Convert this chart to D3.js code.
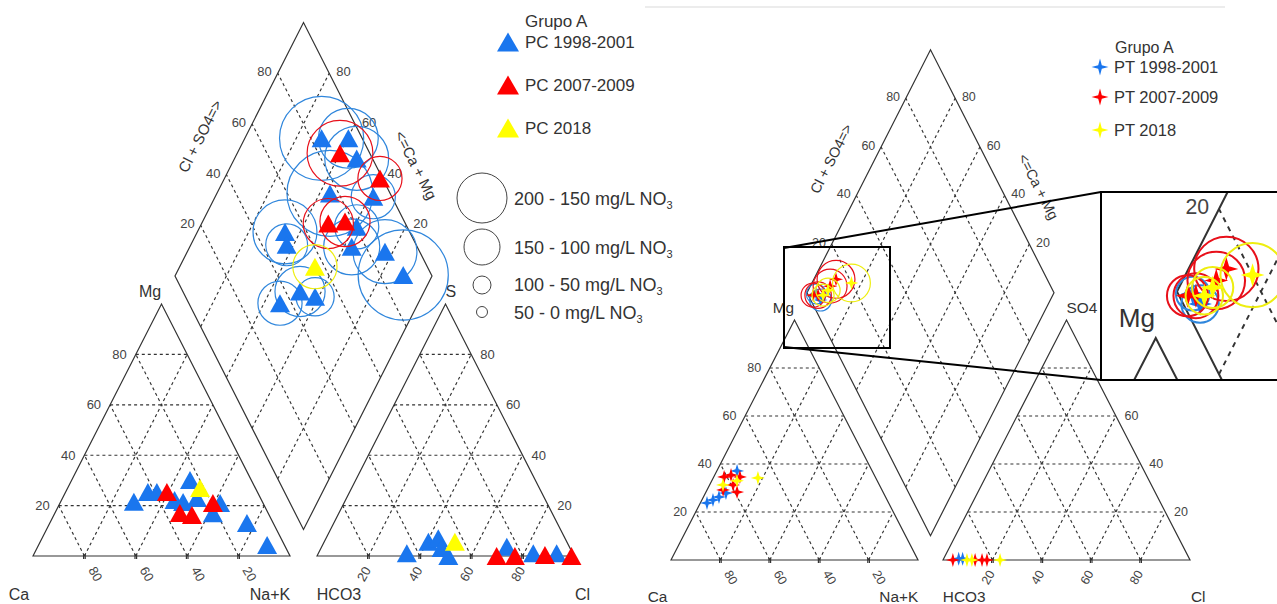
<!DOCTYPE html>
<html><head><meta charset="utf-8">
<script src="https://cdn.jsdelivr.net/npm/d3@7"></script>
<style>
body{margin:0;background:#fff}
svg{display:block}
text{font-family:"Liberation Sans",Arial,sans-serif}
</style>
</head><body>
<svg id="c" width="1277" height="604"></svg>
<script>
// ================= DATA =================
const gridTicks = [20, 40, 60, 80];
const pcSeriesNames = ["PC 1998-2001", "PC 2007-2009", "PC 2018"];
const ptSeriesNames = ["PT 1998-2001", "PT 2007-2009", "PT 2018"];
const groupTitle = "Grupo A";
const no3Classes = ["200 - 150", "150 - 100", "100 - 50", "50 - 0"];

// Left diagram (PC) — cation triangle [Mg %, Na+K %]
const pcCation1998 = [[21.5,28.5],[25.4,32],[25.4,35.5],[30.2,46],[22.2,44],[21.4,47.7],[23,52.3],[21,62.3],[17,61.5],[13.1,76.7],[4.4,88.9]];
const pcCation2007 = [[25.4,39.4],[17.1,48.6],[16.3,53.7],[21,59.5]];
const pcCation2018 = [[27,51.5]];
// anion triangle [SO4 %, Cl %]
const pcAnion1998 = [[1.1,34.4],[5.7,40.5],[7.0,43.7],[3.2,46.9],[0,51.1],[3.7,72],[1.1,83.6],[1.1,92.7]];
const pcAnion2007 = [[0,69.9],[0,77],[0.4,88.5],[0,99]];
const pcAnion2018 = [[5.7,50.8]];
// diamond [Ca+Mg %, Cl+SO4 %, NO3 mg/L]
const pcDiamond1998 = [[70.1,84.2,183],[59.7,94.6,130],[52.5,93.9,139],[56,76.6,187],[38.5,92.8,96],[39,80.4,96],[65.9,51.5,139],[62.7,49.6,91],[37,74.5,122],[23.1,86.5,139],[11.4,89,196],[48.3,45.6,109],[41.4,50.4,83],[53.8,35.5,96]];
const pcDiamond2007 = [[60,88.4,143],[39.5,99,96],[50.7,70,109],[44.6,76.9,109]];
const pcDiamond2018 = [[47.4,56.3,96]];

// Right diagram (PT)
const ptCation1998 = [[23.75,2.7],[25,4.5],[26.25,6.3],[27.9,8.3],[37.1,8.2]];
const ptCation2007 = [[34.6,4.2],[35.4,6.6],[34.6,10.6],[29.2,6.5],[28.3,12.6],[31.3,9.5]];
const ptCation2018 = [[31.3,5.4],[33,10.2],[34.2,18.1]];
const ptAnion1998 = [[0.5,6.1],[0.5,7.7]];
const ptAnion2007 = [[0,4],[0,13],[0,15.8],[0,17.8]];
const ptAnion2018 = [[0,9.7],[0,11.7],[0,23.1]];
const ptDiamond1998 = [[96,3.5,45],[93,4,50]];
const ptDiamond2007 = [[91,14.5,86],[92,10.7,77],[97,2,55],[95,4,60]];
const ptDiamond2018 = [[84,20,86],[93,6,50],[92,9,55]];

// ================= STYLE / LAYOUT =================
const markerFill = ["#1a76ee", "#ff0000", "#ffff00"];
const circleStroke = ["#2f86dc", "#e8101a", "#eeee10"];
const ink = "#333";

const leftCfg = {x0:33, yBase:556, s:257, h:252, g:27, hd:253.5, k:1, fs:13, marker:"tri", mw:20, mh:18, rMax:46, so4:"S"};
const rightCfg = {x0:671, yBase:560, s:247, h:240, g:25, hd:243, k:247/257, fs:12.5, marker:"star", sr:7, sw:1.6, rMax:44, so4:"SO4"};

const pcSeries = pcSeriesNames.map((name,i)=>({name, fill:markerFill[i], stroke:circleStroke[i],
  cation:[pcCation1998,pcCation2007,pcCation2018][i], anion:[pcAnion1998,pcAnion2007,pcAnion2018][i], diamond:[pcDiamond1998,pcDiamond2007,pcDiamond2018][i]}));
const ptSeries = ptSeriesNames.map((name,i)=>({name, fill:markerFill[i], stroke:circleStroke[i],
  cation:[ptCation1998,ptCation2007,ptCation2018][i], anion:[ptAnion1998,ptAnion2007,ptAnion2018][i], diamond:[ptDiamond1998,ptDiamond2007,ptDiamond2018][i]}));

const triPath = (w,h) => `M0,${-h/2}L${w/2},${h/2}L${-w/2},${h/2}Z`;
const starPath = (r,w) => `M0,${-r}L${w},${-w}L${r},0L${w},${w}L0,${r}L${-w},${w}L${-r},0L${-w},${-w}Z`;

const svg = d3.select("#c");

function drawPiper(root, cfg, series){
  const {x0,yBase,s,h,g,hd,k} = cfg;
  const xa0 = x0 + s + g;
  const xC = d3.scaleLinear().domain([0,100]).range([x0, x0+s]);
  const xA = d3.scaleLinear().domain([0,100]).range([xa0, xa0+s]);
  const yT = d3.scaleLinear().domain([0,100]).range([yBase, yBase-h]);
  const Bx = x0 + s + g/2, By = yBase - g*h/s;
  const xD = d3.scaleLinear().domain([-100,100]).range([Bx - s/2, Bx + s/2]);
  const yD = d3.scaleLinear().domain([0,200]).range([By, By - 2*hd]);
  const rS = d3.scaleLinear().domain([0,200]).range([0, cfg.rMax]);
  const cat = (mg,nak) => [xC(nak + mg/2), yT(mg)];
  const an = (so4,cl) => [xA(cl + so4/2), yT(so4)];
  const dia = (camg,clso4) => [xD(clso4 - camg), yD(clso4 + camg)];
  const line = d3.line();

  // dashed grid
  const grid = root.append("g").attr("fill","none").attr("stroke",ink).attr("stroke-width",1.15).attr("stroke-dasharray","3,3");
  gridTicks.forEach(v=>{
    grid.append("path").attr("d", line([cat(v,0), cat(v,100-v)]));
    grid.append("path").attr("d", line([cat(0,v), cat(100-v,v)]));
    grid.append("path").attr("d", line([cat(0,100-v), cat(100-v,0)]));
    grid.append("path").attr("d", line([an(v,0), an(v,100-v)]));
    grid.append("path").attr("d", line([an(0,v), an(100-v,v)]));
    grid.append("path").attr("d", line([an(0,100-v), an(100-v,0)]));
    grid.append("path").attr("d", line([dia(v,0), dia(v,100)]));
    grid.append("path").attr("d", line([dia(0,v), dia(100,v)]));
  });
  // outlines
  const edges = root.append("g").attr("fill","none").attr("stroke",ink).attr("stroke-width",1.2);
  edges.append("path").attr("d", line([cat(0,0), cat(100,0), cat(0,100)])+"Z");
  edges.append("path").attr("d", line([an(0,0), an(100,0), an(0,100)])+"Z");
  edges.append("path").attr("d", line([dia(0,0), dia(100,0), dia(100,100), dia(0,100)])+"Z");
  // base ticks
  gridTicks.forEach(v=>{
    [cat(0,v), an(0,v)].forEach(([tx,ty])=>{
      edges.append("path").attr("d", line([[tx-0.8,ty-2],[tx-0.8,ty+3]]));
      edges.append("path").attr("d", line([[tx+0.8,ty-2],[tx+0.8,ty+3]]));
    });
  });

  // tick labels
  const lab = root.append("g").attr("fill","#444").style("font-size", cfg.fs+"px");
  gridTicks.forEach(v=>{
    const [lx,ly] = cat(v,0);
    lab.append("text").attr("x", lx-9*k).attr("y", ly+4.5*k).attr("text-anchor","end").text(v);
    const [rx,ry] = an(v,100-v);
    lab.append("text").attr("x", rx+9*k).attr("y", ry+4.5*k).text(v);
    const [bx,by] = cat(0,v);
    lab.append("text").attr("transform", `translate(${bx+3.5*k},${by+14*k}) rotate(60)`).text(100-v);
    const [ax,ay] = an(0,v);
    lab.append("text").attr("transform", `translate(${ax+3*k},${ay+14*k}) rotate(-60)`).attr("text-anchor","end").text(v);
    const [ux,uy] = dia(100,v);
    lab.append("text").attr("x", ux-6*k).attr("y", uy+3*k).attr("text-anchor","end").text(v);
    const [vx,vy] = dia(v,100);
    lab.append("text").attr("x", vx+7*k).attr("y", vy+3*k).text(v);
  });

  // axis names
  const nm = root.append("g").attr("fill",ink).style("font-size", (16*k)+"px");
  nm.append("text").attr("x", x0-14*k).attr("y", yBase+44*k).attr("text-anchor","middle").text("Ca");
  nm.append("text").attr("x", x0+s-20*k).attr("y", yBase+44*k).attr("text-anchor","middle").text("Na+K");
  nm.append("text").attr("x", xa0+22*k).attr("y", yBase+44*k).attr("text-anchor","middle").text("HCO3");
  nm.append("text").attr("x", xa0+s+8.5*k).attr("y", yBase+44*k).attr("text-anchor","middle").text("Cl");
  const apC = cat(100,0), apA = an(100,0);
  nm.append("text").attr("x", apC[0]-11.5*k).attr("y", apC[1]-7*k).attr("text-anchor","middle").text("Mg");
  nm.append("text").attr("x", apA[0]).attr("y", apA[1]-7*k).text(cfg.so4);

  const ang = Math.atan2(hd, s/2)*180/Math.PI;
  const L = dia(100,0), T = dia(100,100), R = dia(0,100);
  const t1 = [(L[0]+T[0])/2 - 39*k, (L[1]+T[1])/2 - 13*k];
  const t2 = [(T[0]+R[0])/2 + 48*k, (T[1]+R[1])/2 + 16*k];
  const tt = root.append("g").attr("fill",ink).style("font-size",(15*k)+"px").attr("text-anchor","middle");
  tt.append("text").attr("transform",`translate(${t1[0]},${t1[1]}) rotate(${-ang})`).attr("dy","0.35em").text("Cl + SO4=>");
  tt.append("text").attr("transform",`translate(${t2[0]},${t2[1]}) rotate(${ang})`).attr("dy","0.35em").text("<=Ca + Mg");

  // data
  const mk = cfg.marker === "tri" ? triPath(cfg.mw, cfg.mh) : starPath(cfg.sr, cfg.sw);
  series.forEach(se=>{
    const gg = root.append("g");
    gg.selectAll("circle").data(se.diamond).join("circle")
      .attr("cx", d=>dia(d[0],d[1])[0]).attr("cy", d=>dia(d[0],d[1])[1])
      .attr("r", d=>rS(d[2])).attr("fill","none").attr("stroke", se.stroke).attr("stroke-width",1.2);
    const pts = [].concat(se.cation.map(d=>cat(d[0],d[1])), se.anion.map(d=>an(d[0],d[1])), se.diamond.map(d=>dia(d[0],d[1])));
    gg.selectAll("path.m").data(pts).join("path").attr("class","m")
      .attr("d", mk).attr("transform", d=>`translate(${d[0]},${d[1]})`).attr("fill", se.fill);
  });
}

// ---- left diagram ----
drawPiper(svg.append("g"), leftCfg, pcSeries);

// left legend
const lg = svg.append("g").attr("fill", ink);
lg.append("text").attr("x",525).attr("y",27).style("font-size","17px").text(groupTitle);
const legY = [42, 85, 128];
pcSeries.forEach((se,i)=>{
  lg.append("path").attr("d", triPath(22,19)).attr("transform",`translate(508,${legY[i]})`).attr("fill", se.fill);
  lg.append("text").attr("x",525).attr("y",legY[i]+6).style("font-size","17px").text(se.name);
});
const no3Y = [[198,25,205],[247,18,254],[285,9,291],[312,5.5,319]];
no3Classes.forEach((c,i)=>{
  const [cy,r,ty] = no3Y[i];
  lg.append("circle").attr("cx",482).attr("cy",cy).attr("r",r).attr("fill","none").attr("stroke","#444").attr("stroke-width",1);
  const t = lg.append("text").attr("x",514).attr("y",ty).style("font-size","18px");
  t.append("tspan").text(c + " mg/L NO");
  t.append("tspan").attr("dy",4).style("font-size","11px").text("3");
});

// ---- right diagram ----
svg.append("line").attr("x1",645).attr("x2",1225).attr("y1",7).attr("y2",7).attr("stroke","#e6e6e6").attr("stroke-width",1.5);
drawPiper(svg.append("g"), rightCfg, ptSeries);

const rg = svg.append("g").attr("fill", ink);
rg.append("text").attr("x",1115).attr("y",53).style("font-size","16px").text(groupTitle);
const rLegY = [67, 97, 130];
ptSeries.forEach((se,i)=>{
  rg.append("path").attr("d", starPath(8.5,1.8)).attr("transform",`translate(1100,${rLegY[i]})`).attr("fill", se.fill);
  rg.append("text").attr("x",1114).attr("y",rLegY[i]+6).style("font-size","16.5px").text(se.name);
});

// zoom box + connectors
const zb = svg.append("g").attr("fill","none").attr("stroke","#000").attr("stroke-width",2);
zb.append("rect").attr("x",784).attr("y",247).attr("width",106).attr("height",101);
zb.append("line").attr("x1",784).attr("y1",248).attr("x2",1101).attr("y2",192);
zb.append("line").attr("x1",784).attr("y1",347).attr("x2",1101).attr("y2",380);

// inset (magnified copy of the right diagram)
const inset = {x:1101, y:192, w:176, h:188};
svg.append("clipPath").attr("id","insetClip").append("rect").attr("x",inset.x).attr("y",inset.y).attr("width",inset.w+30).attr("height",inset.h);
svg.append("rect").attr("x",inset.x).attr("y",inset.y).attr("width",inset.w+30).attr("height",inset.h).attr("fill","#fff");
const ig = svg.append("g").attr("clip-path","url(#insetClip)").append("g").attr("transform","translate(-194.9,-206) scale(1.7)");
drawPiper(ig, rightCfg, ptSeries);
// keep only the texts that lie inside the magnified window
ig.selectAll("text").each(function(){
  const b = this.getBoundingClientRect();
  const tol = 4;
  if (b.left < inset.x-tol || b.right > inset.x+inset.w+tol || b.top < inset.y-tol || b.bottom > inset.y+inset.h+tol) d3.select(this).remove();
});
svg.append("rect").attr("x",inset.x).attr("y",inset.y).attr("width",inset.w+30).attr("height",inset.h).attr("fill","none").attr("stroke","#000").attr("stroke-width",2);
</script>
</body></html>
